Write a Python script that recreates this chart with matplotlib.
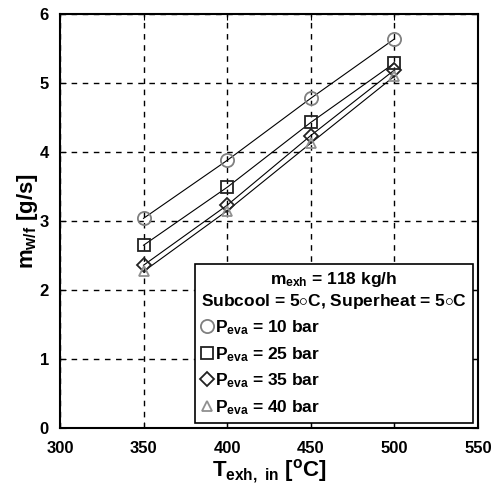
import matplotlib
matplotlib.use('Agg')
import matplotlib.pyplot as plt
from matplotlib.lines import Line2D

plt.rcParams['font.family'] = ['Liberation Sans', 'DejaVu Sans']
plt.rcParams['font.weight'] = 'bold'
plt.rcParams['axes.labelweight'] = 'bold'
plt.rcParams['mathtext.fontset'] = 'custom'
plt.rcParams['mathtext.rm'] = 'Liberation Sans:bold'
plt.rcParams['mathtext.it'] = 'Liberation Sans:bold'
plt.rcParams['mathtext.bf'] = 'Liberation Sans:bold'

# exhaust inlet temperature [C]
t_exh = [350, 400, 450, 500]

# working fluid mass flow [g/s] for each evaporation pressure
m_10bar = [3.04, 3.88, 4.78, 5.64]
m_25bar = [2.65, 3.49, 4.43, 5.29]
m_35bar = [2.36, 3.23, 4.24, 5.19]
m_40bar = [2.27, 3.15, 4.13, 5.10]

p_labels = ['10', '25', '35', '40']
markers = ['o', 's', 'D', '^']
edge_colors = ['#808080', '#222222', '#222222', '#909090']
marker_sizes = [9.5, 8.5, 7, 7]

fig = plt.figure(figsize=(4.99, 4.87), dpi=100)
ax = fig.add_axes([0.120, 0.121, 0.838, 0.850])

handles = []
for ys, mk, ec, ms, p in zip([m_10bar, m_25bar, m_35bar, m_40bar], markers,
                             edge_colors, marker_sizes, p_labels):
    ax.plot(t_exh, ys, color='black', lw=0.8, zorder=2)
    ax.plot(t_exh, ys, ls='none', marker=mk, ms=ms, mfc='none', mec=ec,
            mew=1.3, zorder=3)
    handles.append(Line2D([], [], ls='none', marker=mk, ms=ms, mfc='none',
                          mec=ec, mew=1.3,
                          label=r'$P_{\mathrm{eva}}$ = ' + p + ' bar'))

ax.set_xlim(300, 550)
ax.set_ylim(0, 6)
ax.set_xticks([300, 350, 400, 450, 500, 550])
ax.set_yticks([0, 1, 2, 3, 4, 5, 6])
ax.grid(True, color='black', ls=(0, (4, 4)), lw=1.0)
ax.tick_params(labelsize=12, direction='in', length=4, top=True, right=True)
ax.tick_params(axis='x', pad=9)
ax.tick_params(axis='y', pad=8)
for sp in ax.spines.values():
    sp.set_linewidth(1.5)

ax.set_xlabel(r'$T_{\mathrm{exh,\ in}}$ [$^{\mathrm{o}}$C]', fontsize=16, labelpad=1)
ax.set_ylabel(r'$m_{\mathrm{w/f}}$ [g/s]', fontsize=16, labelpad=0)

leg = ax.legend(handles=handles, loc='lower right', fontsize=12.5,
                title='$m_{\\mathrm{exh}}$ = 118 kg/h\nSubcool = 5$\\circ$C, Superheat = 5$\\circ$C',
                title_fontsize=12.5, frameon=True, fancybox=False, framealpha=1,
                edgecolor='black', handlelength=0.7, handletextpad=0.15,
                borderpad=0.35, labelspacing=0.45, borderaxespad=0.3)
leg.get_frame().set_linewidth(1.2)
leg.get_title().set_fontweight('bold')
leg._legend_box.align = 'left'
leg.get_title().set_ha('center')

fig.savefig('out.png', dpi=100)
